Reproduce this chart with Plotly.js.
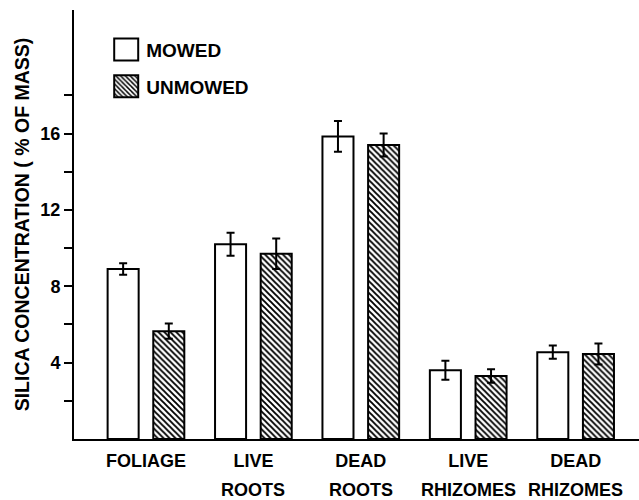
<!DOCTYPE html>
<html>
<head>
<meta charset="utf-8">
<script src="https://cdn.plot.ly/plotly-3.0.1.min.js"></script>
<style>html,body{margin:0;padding:0;background:#fff;}#chart{width:639px;height:500px;}</style>
</head>
<body>
<div id="chart"></div>
<script>
const categories = ['FOLIAGE', 'LIVE ROOTS', 'DEAD ROOTS', 'LIVE RHIZOMES', 'DEAD RHIZOMES'];
const tickLine1 = ['FOLIAGE', 'LIVE', 'DEAD', 'LIVE', 'DEAD'];
const tickLine2 = ['', 'ROOTS', 'ROOTS', 'RHIZOMES', 'RHIZOMES'];
const mowed = [8.9, 10.2, 15.85, 3.6, 4.55];
const mowedErr = [0.3, 0.6, 0.8, 0.5, 0.35];
const unmowed = [5.65, 9.7, 15.4, 3.3, 4.45];
const unmowedErr = [0.4, 0.8, 0.6, 0.35, 0.55];
const yTickVals = [2, 4, 6, 8, 10, 12, 14, 16, 18];
const yTickText = ['', '4', '', '8', '', '12', '', '16', ''];

const FONT = 'Liberation Sans, Arial, Helvetica, sans-serif';

const traces = [
  {
    type: 'bar', name: 'MOWED', x: categories, y: mowed, legendgroup: 'a',
    marker: {color: '#ffffff', line: {color: '#000', width: 2}},
    error_y: {type: 'data', array: mowedErr, visible: true, color: '#000', thickness: 2, width: 4}
  },
  {
    type: 'bar', name: 'UNMOWED', x: categories, y: unmowed, legendgroup: 'b',
    marker: {color: '#ffffff', line: {color: '#000', width: 2},
      pattern: {shape: '\\', fgcolor: '#000', bgcolor: '#fff', size: 4.2, solidity: 0.45}},
    error_y: {type: 'data', array: unmowedErr, visible: true, color: '#000', thickness: 2, width: 4}
  }
];

const annotations = categories.map((c, i) => ({
  x: c, xref: 'x', y: 0, yref: 'paper', yanchor: 'middle', yshift: -51,
  text: tickLine2[i], showarrow: false,
  font: {family: FONT, size: 18, color: '#000', weight: 'bold'}
}));

const layout = {
  width: 639, height: 500,
  margin: {l: 74, r: 0, t: 10, b: 61},
  paper_bgcolor: '#fff', plot_bgcolor: '#fff',
  barmode: 'group', bargap: 0.15, bargroupgap: 0.32,
  showlegend: true,
  legend: {x: 0.057, y: 0.952, xanchor: 'left', yanchor: 'top', bgcolor: 'rgba(0,0,0,0)',
    font: {family: FONT, size: 19, color: '#000', weight: 'bold'}, tracegroupgap: 9, traceorder: 'grouped'},
  xaxis: {
    type: 'category', range: [-0.67, 4.59], showgrid: false, zeroline: false,
    showline: true, linecolor: '#000', linewidth: 2, ticks: '', ticklabelstandoff: 4,
    tickvals: categories, ticktext: tickLine1,
    tickfont: {family: FONT, size: 18, color: '#000', weight: 'bold'}, fixedrange: true
  },
  yaxis: {
    range: [0, 22.47], showgrid: false, zeroline: false,
    showline: true, linecolor: '#000', linewidth: 2,
    ticks: 'outside', ticklen: 8, tickwidth: 2, tickcolor: '#000',
    tickvals: yTickVals, ticktext: yTickText,
    tickfont: {family: FONT, size: 18, color: '#000', weight: 'bold'},
    title: {text: 'SILICA CONCENTRATION ( % OF MASS)', standoff: 6, font: {family: FONT, size: 19.5, color: '#000', weight: 'bold'}},
    fixedrange: true
  },
  annotations: annotations
};

Plotly.newPlot('chart', traces, layout, {displayModeBar: false, staticPlot: true}).then(() => {
  document.querySelectorAll('.legendpoints path').forEach(p => {
    p.setAttribute('d', 'M12,11H-12V-11H12Z');
  });
});
</script>
</body>
</html>
